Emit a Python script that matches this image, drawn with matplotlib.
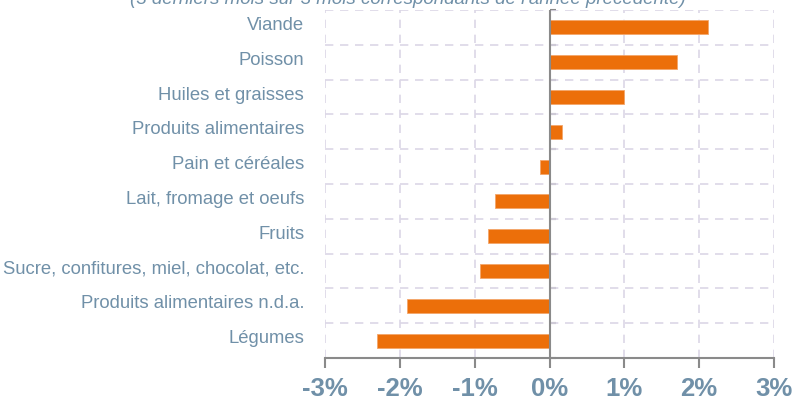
import matplotlib
matplotlib.use("Agg")
import matplotlib.pyplot as plt
import matplotlib.transforms as mtransforms
import numpy as np

categories = ["Viande", "Poisson", "Huiles et graisses", "Produits alimentaires",
              "Pain et céréales", "Lait, fromage et oeufs", "Fruits",
              "Sucre, confitures, miel, chocolat, etc.",
              "Produits alimentaires n.d.a.", "Légumes"]
values = [2.12, 1.71, 1.0, 0.17, -0.13, -0.73, -0.82, -0.93, -1.9, -2.3]
xticks = [-3, -2, -1, 0, 1, 2, 3]
xticklabels = ["-3%", "-2%", "-1%", "0%", "1%", "2%", "3%"]
subtitle = "(3 derniers mois sur 3 mois correspondants de l'année précédente)"

plt.rcParams['font.family'] = ['Liberation Sans', 'DejaVu Sans']
label_color = "#7090A8"
grid_color = "#DCD7E6"
axis_color = "#8A8A8A"
bar_color = "#EC6F0A"

fig = plt.figure(figsize=(7.95, 4.01), dpi=100)
ax = fig.add_axes([325/795, 43/401, (774-325)/795, (358-10)/401])

n = len(categories)
y = np.arange(n)
ax.barh(y, values, height=0.4, color=bar_color, edgecolor="#F3A66A", linewidth=0.6, zorder=3)
ax.set_ylim(n - 0.5, -0.5)
ax.set_xlim(-3, 3)

ax.set_yticks(y)
ax.set_yticklabels(categories, fontsize=13.3, color=label_color)
ax.tick_params(axis='y', which='major', length=0, pad=15)
offset = mtransforms.ScaledTranslation(0, 4/100, fig.dpi_scale_trans)
for lbl in ax.get_yticklabels():
    lbl.set_transform(lbl.get_transform() + offset)
ax.set_yticks(np.arange(n + 1) - 0.5, minor=True)
ax.tick_params(axis='y', which='minor', length=0)

ax.set_xticks(xticks)
ax.set_xticklabels(xticklabels, fontsize=18.5, fontweight='bold', color=label_color)
ax.tick_params(axis='x', length=7, width=1.5, color=axis_color, pad=7)

ax.grid(axis='x', which='major', color=grid_color, linestyle=(0, (5, 4)), linewidth=1.2, zorder=0)
ax.grid(axis='y', which='minor', color=grid_color, linestyle=(0, (5, 4)), linewidth=1.2, zorder=0)

for s in ['left', 'right', 'top']:
    ax.spines[s].set_visible(False)
ax.spines['bottom'].set_color(axis_color)
ax.spines['bottom'].set_linewidth(1.5)
ax.spines['bottom'].set_zorder(4)

ax.axvline(0, color=axis_color, linewidth=1.5, zorder=4)
sec = ax.secondary_yaxis(0.5)
sec.set_yticks(np.arange(n + 1) - 0.5)
sec.set_yticklabels([])
sec.tick_params(length=4, width=1.5, color=axis_color)
sec.spines['left'].set_visible(False)
sec.spines['right'].set_visible(False)

fig.text(408/795, 1.0 - 0/401, subtitle, fontsize=13.5, style='italic', color=label_color,
         ha='center', va='center')

fig.savefig("out.png", dpi=100)
